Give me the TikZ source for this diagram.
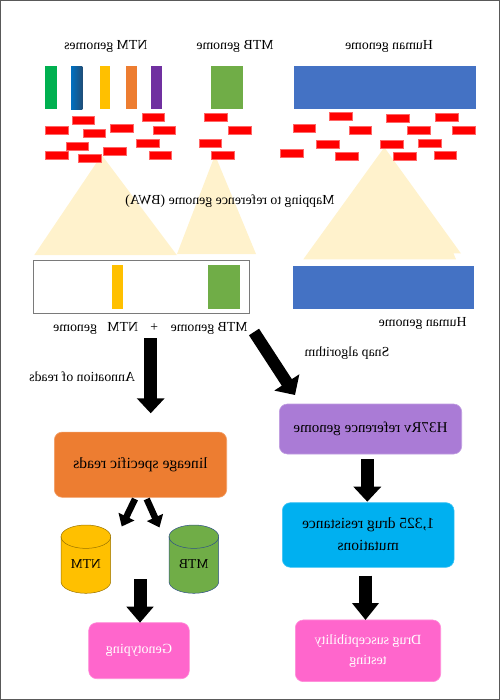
\documentclass[tikz,border=0pt]{standalone}
\usepackage{fontspec}
\setmainfont{Liberation Serif}
\usepackage{graphicx}
\usetikzlibrary{arrows.meta}
\definecolor{cOrange}{HTML}{ED7D31}
\definecolor{cPurple}{HTML}{AA7BD6}
\definecolor{cCyan}{HTML}{00B0F0}
\definecolor{cPink}{HTML}{FF66CC}
\definecolor{cYellow}{HTML}{FFC000}
\definecolor{cGreen}{HTML}{70AD47}
\definecolor{cHuman}{HTML}{4472C4}
\definecolor{cNgreen}{HTML}{00B050}
\definecolor{cNblue}{HTML}{0070C0}
\definecolor{cNblueD}{HTML}{1F4E79}
\definecolor{cNpurple}{HTML}{7030A0}
\definecolor{cTri}{HTML}{FFF2CC}
\definecolor{cFrame}{HTML}{595959}
\newcommand{\mir}[1]{\reflectbox{#1}}
\begin{document}
\begin{tikzpicture}[x=1pt,y=-1pt,
  lbl/.style={inner sep=0pt, anchor=base, font=\fontsize{13.8}{16}\selectfont},
  gbar/.style={inner sep=0pt, outer sep=0pt, draw=none},
  readbox/.style={inner sep=0pt, outer sep=0pt, fill=red, draw=red!60!white, line width=0.4pt, minimum width=22.7pt, minimum height=8pt},
  tri/.style={fill=cTri, draw=none},
  rbox/.style={inner sep=0pt, rounded corners=8pt, line width=0.6pt, align=center},
  bigarrow/.style={-{Triangle[width=#1, length=15pt]}, line width=13pt, black},
  smallarrow/.style={-{Triangle[width=17pt, length=11pt]}, line width=6.5pt, black}]
\useasboundingbox (0,0) rectangle (500,700);
\draw[cFrame, line width=1.3pt] (0.65,0.65) rectangle (499.35,699.35);

% mapping triangles
\fill[tri] (101.7,155) -- (34.3,255) -- (176.8,255) -- cycle;
\fill[tri] (215,155) -- (177,254) -- (256,254) -- cycle;
\fill[tri] (384.3,147.3) -- (461,253.5) -- (453.5,253.5) -- (456,259.3) -- (303.3,259.3) -- cycle;

% top labels
\node[lbl] (ntmlbl) at (105.8,50) {\mir{NTM genomes}};
\node[lbl] (mtblbl) at (235,50) {\mir{MTB genome}};
\node[lbl] (humlbl) at (389,50) {\mir{Human genome}};

% genome bars
\node[gbar, fill=cNgreen, minimum width=11.7pt, minimum height=43pt] (n1) at (50.85,87.7) {};
\node[gbar, left color=cNblue, right color=cNblueD, minimum width=11.3pt, minimum height=43pt] (n2) at (76.65,87.7) {};
\node[gbar, fill=cYellow, minimum width=10.3pt, minimum height=43pt] (n3) at (105.15,87.7) {};
\node[gbar, fill=cOrange, minimum width=11.3pt, minimum height=43pt] (n4) at (131.35,87.7) {};
\node[gbar, fill=cNpurple, minimum width=11.3pt, minimum height=43pt] (n5) at (156.65,87.7) {};
\node[gbar, fill=cGreen, minimum width=32.3pt, minimum height=43pt] (mtbbar) at (227.15,87.7) {};
\node[gbar, fill=cHuman, minimum width=181.7pt, minimum height=43pt] (humbar) at (384.85,87.7) {};

% reads
\foreach \x/\y [count=\i] in {71.7/116, 141.7/113.3, 45/126, 110/124, 82.7/129.3, 152.7/126,
  65.7/142, 136/139.3, 45/151.7, 103.3/147.3, 78.3/154, 148.7/151.7,
  204/113.3, 228/126, 198.7/139, 211.3/151,
  329.3/112, 386/114, 435.3/113.7, 292.7/124.7, 348.7/126, 407.3/126.7, 452/126.3,
  316/140, 380.3/140, 418/139.3, 280/149.3, 335.3/152.7, 393.3/152, 433.7/151.3}
  \node[readbox] (r\i) at (\x+11.35,\y+4) {};

\node[lbl] (maplbl) at (230,205) {\mir{Mapping to reference genome (BWA)}};

% mapped genomes
\node[draw=cFrame!80!white, line width=0.8pt, inner sep=0pt, minimum width=216pt, minimum height=53.3pt] (mapbox) at (141.3,286.7) {};
\node[gbar, fill=cYellow, minimum width=10.7pt, minimum height=44pt] (mapntm) at (117.7,287) {};
\node[gbar, fill=cGreen, minimum width=31.7pt, minimum height=44pt] (mapmtb) at (224.2,287) {};
\node[gbar, fill=cHuman, minimum width=181.3pt, minimum height=43pt] (humbar2) at (383.3,287.5) {};
\node[lbl] (comblbl) at (150.5,331.7) {\mir{MTB genome\hspace{0.9em}+\hspace{0.9em}NTM\hspace{0.75em}genome}};
\node[lbl] (humlbl2) at (422.7,326.7) {\mir{Human genome}};
\node[lbl] (snaplbl) at (347,356.7) {\mir{Snap algorithm}};
\node[lbl] (annlbl) at (82.2,381.7) {\mir{Annoation of reads}};

% big arrows top
\coordinate (a1s) at (150.7,338.3);
\coordinate (a1e) at (150.7,413.3);
\draw[bigarrow=27pt] (a1s) -- (a1e);
\coordinate (a2s) at (254,332);
\coordinate (a2e) at (295,395);
\draw[bigarrow=29pt, line width=12pt] (a2s) -- (a2e);

% boxes
\node[rbox, fill=cOrange, draw=cOrange!75!white, minimum width=172.4pt, minimum height=65.3pt, font=\fontsize{15.6}{18}\selectfont] (lineage) at (140.5,464.7) {\mir{lineage specific reads}};
\node[rbox, fill=cPurple, draw=cPurple!75!white, minimum width=182.4pt, minimum height=50pt, font=\fontsize{15}{18}\selectfont] (h37) at (370.5,429) {\mir{H37Rv reference genome}};
\node[rbox, fill=cCyan, draw=cCyan!75!white, minimum width=171.7pt, minimum height=64.6pt, font=\fontsize{15.5}{22.7}\selectfont] (drm) at (368.2,535) {\mir{\begin{tabular}{@{}c@{}}1,325 drug resistance\\mutations\end{tabular}}};
\node[rbox, fill=cPink, draw=cPink!75!white, minimum width=145.4pt, minimum height=61.7pt, text=white, font=\fontsize{14}{20}\selectfont] (dst) at (368,650.8) {\mir{\begin{tabular}{@{}c@{}}Drug susceptibility\\testing\end{tabular}}};
\node[rbox, fill=cPink, draw=cPink!75!white, minimum width=100.6pt, minimum height=56pt, text=white, font=\fontsize{14}{18}\selectfont] (geno) at (139,650.7) {\mir{Genotyping}};

% cylinders
\fill[cYellow, draw=cYellow!60!black, line width=0.5pt] (61,536.7) -- (61,581.6) arc[start angle=180, end angle=360, x radius=24.85pt, y radius=11.7pt] -- (110.7,536.7) arc[start angle=0, end angle=180, x radius=24.85pt, y radius=11.7pt] -- cycle;
\draw[cYellow!60!black, line width=0.5pt] (61,536.7) arc[start angle=180, end angle=360, x radius=24.85pt, y radius=11.7pt];
\fill[cGreen, draw=cHuman!70!black, line width=0.5pt] (169,536.7) -- (169,581.6) arc[start angle=180, end angle=360, x radius=24.85pt, y radius=11.7pt] -- (218.7,536.7) arc[start angle=0, end angle=180, x radius=24.85pt, y radius=11.7pt] -- cycle;
\draw[cHuman!70!black, line width=0.5pt] (169,536.7) arc[start angle=180, end angle=360, x radius=24.85pt, y radius=11.7pt];
\node[lbl, font=\fontsize{13.6}{16}\selectfont] (ntmcyl) at (85.85,568.3) {\mir{NTM}};
\node[lbl, font=\fontsize{13.6}{16}\selectfont] (mtbcyl) at (193.85,568.3) {\mir{MTB}};

% small arrows
\coordinate (s1s) at (135,499);
\coordinate (s1e) at (121.7,526.5);
\coordinate (s2s) at (146.7,499);
\coordinate (s2e) at (159.5,527.5);
\draw[smallarrow] (s1s) -- (s1e);
\draw[smallarrow] (s2s) -- (s2e);

% lower arrows
\coordinate (a3s) at (367.3,459.3);
\coordinate (a3e) at (367.3,501.7);
\draw[bigarrow=27pt] (a3s) -- (a3e);
\coordinate (a4s) at (365.5,575.7);
\coordinate (a4e) at (365.5,620);
\draw[bigarrow=26pt, -{Triangle[width=26pt,length=17pt]}] (a4s) -- (a4e);
\coordinate (a5s) at (140,579);
\coordinate (a5e) at (140,622.7);
\draw[bigarrow=26.3pt, -{Triangle[width=26.3pt,length=16pt]}] (a5s) -- (a5e);
\end{tikzpicture}
\end{document}
